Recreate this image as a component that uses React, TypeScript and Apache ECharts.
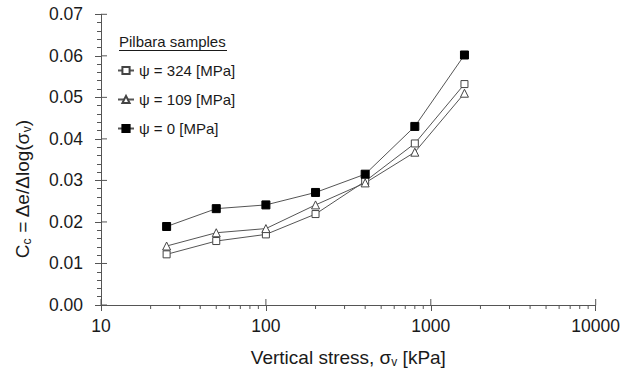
import React, { useEffect, useRef } from "react";
import * as echarts from "echarts";

// Vertical stress steps [kPa]
const stress = [25, 50, 100, 200, 400, 800, 1600];
// Compression index for each suction level
const cc324 = [0.0122, 0.0154, 0.017, 0.0219, 0.0298, 0.0389, 0.0532];
const cc109 = [0.0142, 0.0174, 0.0184, 0.0241, 0.0294, 0.0368, 0.051];
const cc0 = [0.0189, 0.0232, 0.0241, 0.0271, 0.0315, 0.043, 0.0602];
const seriesNames = ["ψ = 324 [MPa]", "ψ = 109 [MPa]", "ψ = 0 [MPa]"];
const legendTitle = "Pilbara samples";
// Tick positions on the logarithmic stress axis
const xMajorTicks = [10, 100, 1000, 10000];
const xMinorTicks = [
  20, 30, 40, 50, 60, 70, 80, 90,
  200, 300, 400, 500, 600, 700, 800, 900,
  2000, 3000, 4000, 5000, 6000, 7000, 8000, 9000,
];
const yMajorTicks = [0, 0.01, 0.02, 0.03, 0.04, 0.05, 0.06, 0.07];

const FONT = "'Liberation Sans', Arial, Helvetica, sans-serif";
const TEXT = "#1a1a1a";
const AXIS = "#555";
const LINE = "#555";

export default function App() {
  const ref = useRef<HTMLDivElement>(null);

  useEffect(() => {
    if (!ref.current) return;
    const chart = echarts.init(ref.current, null, { renderer: "svg" });

    const pair = (ys: number[]) => stress.map((x, i) => [x, ys[i]]);
    const lineSeries = (
      name: string,
      ys: number[],
      symbol: string,
      size: number,
      filled: boolean
    ) => ({
      name,
      type: "line",
      data: pair(ys),
      symbol,
      symbolSize: size,
      showAllSymbol: true,
      z: 3,
      lineStyle: { color: LINE, width: 1 },
      itemStyle: {
        color: filled ? "#000" : "#fff",
        borderColor: filled ? "#000" : "#444",
        borderWidth: 1,
        opacity: 1,
      },
      emphasis: { disabled: true },
    });

    // Extra tick marks drawn through the axes' own scales:
    // dx/dy give the tick direction and length in pixels.
    const tickSeries = (points: number[][], dx: number, dy: number) => ({
      type: "custom",
      coordinateSystem: "cartesian2d",
      silent: true,
      clip: false,
      z: 1,
      data: points,
      renderItem: (_p: any, api: any) => {
        const c = api.coord([api.value(0), api.value(1)]);
        return {
          type: "line",
          shape: { x1: c[0], y1: c[1], x2: c[0] + dx, y2: c[1] + dy },
          style: { stroke: AXIS, lineWidth: 1 },
        };
      },
    });

    chart.setOption({
      animation: false,
      textStyle: { fontFamily: FONT, color: TEXT },
      grid: { left: 101, right: 39.3, top: 14.3, bottom: 63.7, containLabel: false },
      xAxis: {
        type: "log",
        logBase: 10,
        min: 10,
        max: 10000,
        name: "{m|Vertical stress, σ}{s|v}{m| [kPa]}",
        nameLocation: "middle",
        nameGap: 41,
        nameTextStyle: {
          rich: {
            m: { fontSize: 19, fontFamily: FONT, color: TEXT, lineHeight: 22 },
            s: {
              fontSize: 12,
              fontFamily: FONT,
              color: TEXT,
              lineHeight: 8,
              verticalAlign: "bottom",
            },
          },
        },
        axisLine: { show: true, onZero: false, lineStyle: { color: AXIS, width: 1 } },
        axisTick: { show: true, inside: false, length: 6, lineStyle: { color: AXIS } },
        axisLabel: {
          fontSize: 17.5,
          fontFamily: FONT,
          color: TEXT,
          margin: 12,
          formatter: (v: number) => String(v),
        },
        splitLine: { show: false },
      },
      yAxis: {
        type: "value",
        min: 0,
        max: 0.07,
        interval: 0.01,
        axisLine: { show: true, onZero: false, lineStyle: { color: AXIS, width: 1 } },
        axisTick: { show: true, inside: false, length: 6, lineStyle: { color: AXIS } },
        minorTick: { show: true, splitNumber: 5, length: 4, lineStyle: { color: AXIS } },
        axisLabel: {
          fontSize: 17.5,
          fontFamily: FONT,
          color: TEXT,
          margin: 18,
          formatter: (v: number) => v.toFixed(2),
        },
        splitLine: { show: false },
      },
      legend: {
        orient: "vertical",
        left: 117,
        top: 63,
        padding: 0,
        itemWidth: 16,
        itemHeight: 9,
        itemGap: 14,
        selectedMode: false,
        textStyle: {
          fontSize: 15,
          fontFamily: FONT,
          color: TEXT,
        },
        data: seriesNames,
      },
      graphic: [
        {
          type: "text",
          left: 119,
          top: 34,
          style: {
            text: legendTitle,
            fontSize: 15,
            fontFamily: FONT,
            fill: TEXT,
          },
        },
        {
          type: "line",
          shape: { x1: 119, y1: 50.5, x2: 227, y2: 50.5 },
          style: { stroke: TEXT, lineWidth: 1 },
        },
        {
          type: "text",
          x: 22,
          y: 189,
          rotation: Math.PI / 2,
          style: {
            text: "{m|C}{s|c}{m| = Δe/Δlog(σ}{s|v}{m|)}",
            align: "center",
            verticalAlign: "middle",
            rich: {
              m: { fontSize: 19, fontFamily: FONT, fill: TEXT, lineHeight: 22 },
              s: {
                fontSize: 12,
                fontFamily: FONT,
                fill: TEXT,
                lineHeight: 8,
                verticalAlign: "bottom",
              },
            },
          },
        },
      ],
      series: [
        lineSeries(seriesNames[0], cc324, "rect", 7, false),
        lineSeries(seriesNames[1], cc109, "triangle", 8, false),
        lineSeries(seriesNames[2], cc0, "rect", 8, true),
        tickSeries(xMinorTicks.map((v) => [v, 0]), 0, 4),
        tickSeries(xMajorTicks.map((v) => [v, 0]), 0, -6),
        tickSeries(yMajorTicks.map((v) => [10, v]), 6, 0),
      ],
    });

    return () => chart.dispose();
  }, []);

  return (
    <div
      ref={ref}
      style={{ position: "absolute", left: 0, top: 0, width: 635, height: 373 }}
    />
  );
}
